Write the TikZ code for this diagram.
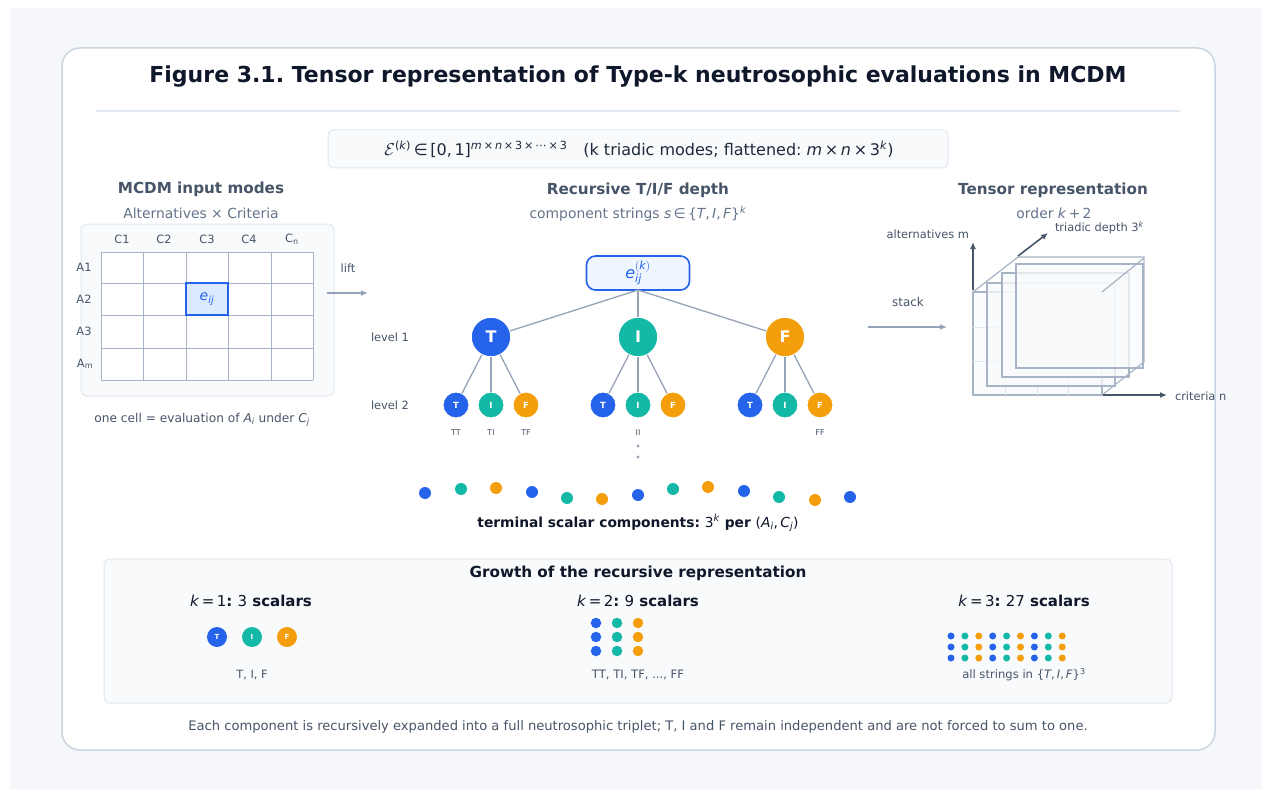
\documentclass[tikz,border=0pt]{standalone}
\usepackage{mathspec}
\setmainfont{DejaVu Sans}
\setmathsfont(Digits,Latin,Greek){DejaVu Sans}
\usetikzlibrary{arrows.meta}
\pgfdeclarelayer{bg}
\pgfsetlayers{bg,main}
\definecolor{blueC}{HTML}{2563EB}
\definecolor{tealC}{HTML}{14B8A6}
\definecolor{orangeC}{HTML}{F59E0B}
\definecolor{slateA}{HTML}{0F172A}
\definecolor{slateB}{HTML}{1E293B}
\definecolor{slateC}{HTML}{475569}
\definecolor{slateD}{HTML}{64748B}
\definecolor{slateE}{HTML}{94A3B8}
\definecolor{slateF}{HTML}{CBD5E1}
\definecolor{slateG}{HTML}{E2E8F0}
\definecolor{slateH}{HTML}{F8FAFC}
\definecolor{bgC}{HTML}{F5F7FA}
\definecolor{blueL}{HTML}{EFF6FF}
\definecolor{blueM}{HTML}{DBEAFE}
\definecolor{sliceC}{HTML}{A7B4C6}
\newcommand{\fsz}[1]{\fontsize{#1}{#1}\selectfont}
\newcommand{\vi}[1]{\textit{#1}}
\newcommand{\sups}[1]{\textsuperscript{#1}}
\newcommand{\subs}[1]{\textsubscript{#1}}
\frenchspacing
\tikzset{
  every node/.style={inner sep=0pt, outer sep=0pt},
  lvA/.style={circle, minimum size=40pt, fill=#1, draw=white, line width=1.5pt, text=white, font=\fsz{16}\bfseries},
  lvB/.style={circle, minimum size=26pt, fill=#1, draw=white, line width=1pt, text=white, font=\fsz{8.5}\bfseries},
  tdot/.style={circle, minimum size=12pt, fill=#1},
  gdotA/.style={circle, minimum size=20pt, fill=#1, text=white, font=\fsz{7}\bfseries},
  gdotB/.style={circle, minimum size=10.5pt, fill=#1},
  gdotC/.style={circle, minimum size=7pt, fill=#1},
  treeline/.style={draw=slateE, line width=1.3pt},
  faintline/.style={draw=slateG, line width=1pt},
  header/.style={font=\fsz{15.2}\bfseries, text=slateC},
  subhead/.style={font=\fsz{13.9}, text=slateD},
  panel/.style={draw=slateG, fill=slateH, line width=1pt, rounded corners=6pt},
  flowarrow/.style={draw=slateE, line width=1.6pt, -{Latex[length=7pt,width=6pt]}},
  axisarrow/.style={draw=slateC, line width=1.6pt, -{Latex[length=7pt,width=6pt]}},
  smalllbl/.style={font=\fsz{11.4}, text=slateC},
  tinylbl/.style={font=\fsz{8}, text=slateC},
  slice/.style={draw=sliceC, line width=1.2pt, fill=slateH, fill opacity=0.75},
}
\begin{document}
\begin{tikzpicture}[x=1pt,y=-1pt]
\useasboundingbox (0,0) rectangle (1262,789);
\fill[white] (0,0) rectangle (1262,789);
\fill[bgC] (10,8) rectangle (1262,789);
\draw[draw=slateF, fill=white, line width=1.5pt, rounded corners=18pt] (62,48) rectangle (1215,750);

% title
\node[font=\fsz{22}\bfseries, text=slateA] (title) at (638,77) {Figure 3.1. Tensor representation of Type-k neutrosophic evaluations in MCDM};
\draw[slateG, line width=1.5pt] (96,111) -- (1180,111);

% formula box
\node[draw=slateG, fill=slateH, rounded corners=5pt, minimum width=620pt, minimum height=38pt, line width=1pt] (fbox) at (638,149) {};
\node[font=\fsz{16}, text=slateB] (ftext) at (639,149) {$\mathcal{E}$\sups{(\vi{k})}\,∈\,[0,\,1]\sups{\vi{m}\,×\,\vi{n}\,×\,3\,×\,⋯\,×\,3}\quad (k triadic modes; flattened: \vi{m}\,×\,\vi{n}\,×\,3\sups{\vi{k}})};

% ---------------- left panel
\node[header] (lhead) at (201,189) {MCDM input modes};
\node[subhead] (lsub) at (201,213) {Alternatives × Criteria};
\draw[panel] (81,224) rectangle (334,396);
\foreach \lbl/\x in {C1/122, C2/164, C3/207, C4/249}
  \node[smalllbl] at (\x,239) {\lbl};
\node[smalllbl] (cn) at (292,239) {C\subs{n}};
\foreach \lbl/\y in {A1/267, A2/299, A3/331}
  \node[smalllbl] at (84,\y) {\lbl};
\node[smalllbl] (am) at (85,364) {A\subs{m}};
\fill[white] (101,252) rectangle (313,380);
\fill[blueM] (186,283) rectangle (228,315);
\foreach \x in {101,143,186,228,271,313}
  \draw[sliceC, line width=1pt] (\x,252) -- (\x,380);
\foreach \y in {252,283,315,348,380}
  \draw[sliceC, line width=1pt] (101,\y) -- (313,\y);
\draw[blueC, line width=1.8pt] (186,283) rectangle (228,315);
\node[font=\fsz{14}, text=blueC] (eij) at (207,299) {$e_{ij}$};
\node[font=\fsz{12.2}, text=slateC] (lcap) at (202,420) {one cell = evaluation of \vi{A}\subs{\vi{i}} under \vi{C}\subs{\vi{j}}};

\node[smalllbl] (lift) at (348,268) {lift};
\coordinate (liftA) at (327,293);
\coordinate (liftB) at (368,293);
\draw[flowarrow] (liftA) -- (liftB);

% ---------------- middle tree
\node[header] (mhead) at (638,190) {Recursive T/I/F depth};
\node[subhead] (msub) at (638,214) {component strings \vi{s}\,∈\,\{\vi{T},\,\vi{I},\,\vi{F}\}\sups{\vi{k}}};

\node[draw=blueC, fill=blueL, line width=1.6pt, rounded corners=9pt, minimum width=103pt, minimum height=34pt, font=\fsz{16}, text=blueC] (root) at (638,273) {$e_{ij}^{(k)}$};

\node[lvA=blueC] (t) at (491,337) {T};
\node[lvA=tealC] (i) at (638,337) {I};
\node[lvA=orangeC] (f) at (785,337) {F};

\foreach \p/\x in {t/491, i/638, f/785}{
  \node[lvB=blueC] (\p t) at (\x-35,405) {T};
  \node[lvB=tealC] (\p i) at (\x,405) {I};
  \node[lvB=orangeC] (\p f) at (\x+35,405) {F};
}

\draw[treeline] (root.south) -- (t);
\draw[treeline] (root.south) -- (i);
\draw[treeline] (root.south) -- (f);
\foreach \p in {t,i,f}{
  \draw[treeline] (\p) -- (\p t);
  \draw[treeline] (\p) -- (\p i);
  \draw[treeline] (\p) -- (\p f);
}

\node[smalllbl] (lv1) at (390,337) {level 1};
\node[smalllbl] (lv2) at (390,405) {level 2};

\node[tinylbl] (ltt) at (456,433) {TT};
\node[tinylbl] (lti) at (491,433) {TI};
\node[tinylbl] (ltf) at (526,433) {TF};
\node[tinylbl] (lii) at (638,433) {II};
\node[tinylbl] (lff) at (820,433) {FF};

% terminal dots
\node[tdot=blueC]   (d1)  at (425,493) {};
\node[tdot=tealC]   (d2)  at (461,489) {};
\node[tdot=orangeC] (d3)  at (496,488) {};
\node[tdot=blueC]   (d4)  at (532,492) {};
\node[tdot=tealC]   (d5)  at (567,498) {};
\node[tdot=orangeC] (d6)  at (602,499) {};
\node[tdot=blueC]   (d7)  at (638,495) {};
\node[tdot=tealC]   (d8)  at (673,489) {};
\node[tdot=orangeC] (d9)  at (708,487) {};
\node[tdot=blueC]   (d10) at (744,491) {};
\node[tdot=tealC]   (d11) at (779,497) {};
\node[tdot=orangeC] (d12) at (815,500) {};
\node[tdot=blueC]   (d13) at (850,497) {};

\coordinate (e1) at (538,480);
\coordinate (e2) at (577,480);
\coordinate (e3) at (638,480);
\coordinate (e4) at (700,480);
\coordinate (e5) at (738,480);
\begin{pgfonlayer}{bg}
  \draw[faintline] (tt.center) -- (e1);
  \draw[faintline] (tf.center) -- (e2);
  \draw[faintline] (ii.center) -- (e3);
  \draw[faintline] (ft.center) -- (e4);
  \draw[faintline] (ff.center) -- (e5);
\end{pgfonlayer}
\fill[slateE] (638,446) circle (1.6pt);
\fill[slateE] (638,457) circle (1.6pt);

\node[font=\fsz{13.8}\bfseries, text=slateA] (term) at (638,523) {terminal scalar components: {\mdseries 3\sups{\vi{k}}} per {\mdseries (\vi{A}\subs{\vi{i}},\,\vi{C}\subs{\vi{j}})}};

% ---------------- right tensor
\node[header] (rhead) at (1053,190) {Tensor representation};
\node[subhead] (rsub) at (1054,213) {order \vi{k}\,+\,2};

\node[font=\fsz{12}, text=slateC] (stack) at (908,302) {stack};
\coordinate (stA) at (868,327);
\coordinate (stB) at (947,327);
\draw[flowarrow] (stA) -- (stB);

% slices (front first, back on top)
\draw[slice] (973,292) rectangle (1102,395);
\foreach \x in {1005,1037,1068}
  \draw[slateG, line width=1pt] (\x,292) -- (\x,395);
\foreach \y in {327,361}
  \draw[slateG, line width=1pt] (973,\y) -- (1102,\y);
\draw[slice] (987,283) rectangle (1115,386);
\draw[slice] (1002,273) rectangle (1129,377);
\draw[slice] (1016,264) rectangle (1143,368);
\draw[sliceC, line width=1.2pt] (973,292) -- (1018,257) -- (1144,257) -- (1144,362) -- (1102,395);
\draw[sliceC, line width=1.2pt] (1144,258) -- (1102,292);

\coordinate (axO) at (973,290);
\coordinate (axU) at (973,242);
\coordinate (axD0) at (1018,256);
\coordinate (axD) at (1048,233);
\coordinate (axR0) at (1103,395);
\coordinate (axR) at (1167,395);
\draw[axisarrow] (axO) -- (axU);
\draw[axisarrow] (axD0) -- (axD);
\draw[axisarrow] (axR0) -- (axR);
\node[smalllbl, anchor=east] (altm) at (969,234) {alternatives m};
\node[smalllbl, anchor=west] (triad) at (1055,228) {triadic depth 3\sups{\vi{k}}};
\node[smalllbl, anchor=west] (critn) at (1175,396) {criteria n};

% ---------------- bottom growth panel
\draw[panel] (104,559) rectangle (1172,703);
\node[font=\fsz{15.2}\bfseries, text=slateA] (ghead) at (638,573) {Growth of the recursive representation};

\node[font=\fsz{15}\bfseries, text=slateA] (k1) at (251,601) {{\mdseries\vi{k}\,=\,1}: {\mdseries 3} scalars};
\node[font=\fsz{15}\bfseries, text=slateA] (k2) at (638,601) {{\mdseries\vi{k}\,=\,2}: {\mdseries 9} scalars};
\node[font=\fsz{15}\bfseries, text=slateA] (k3) at (1024,601) {{\mdseries\vi{k}\,=\,3}: {\mdseries 27} scalars};

\node[gdotA=blueC] (g1t) at (217,637) {T};
\node[gdotA=tealC] (g1i) at (252,637) {I};
\node[gdotA=orangeC] (g1f) at (287,637) {F};
\node[font=\fsz{11.4}, text=slateC] (g1l) at (252,675) {T, I, F};

\foreach \y in {623,637,651}{
  \node[gdotB=blueC] at (596,\y) {};
  \node[gdotB=tealC] at (617,\y) {};
  \node[gdotB=orangeC] at (638,\y) {};
}
\node[font=\fsz{11.6}, text=slateC] (g2l) at (638,675) {TT, TI, TF, ..., FF};

\foreach \y in {636,647,658}{
  \foreach \c [count=\n from 0] in {blueC,tealC,orangeC,blueC,tealC,orangeC,blueC,tealC,orangeC}{
    \node[gdotC=\c] at (951+13.9*\n,\y) {};
  }
}
\node[font=\fsz{11.6}, text=slateC] (g3l) at (1024,675) {all strings in \{\vi{T},\,\vi{I},\,\vi{F}\}\sups{3}};

\node[font=\fsz{13.1}, text=slateC] (foot) at (638,727) {Each component is recursively expanded into a full neutrosophic triplet; T, I and F remain independent and are not forced to sum to one.};
\end{tikzpicture}
\end{document}
